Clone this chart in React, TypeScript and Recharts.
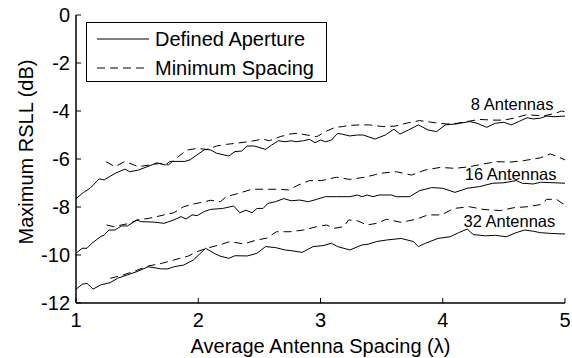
import { LineChart, Line, XAxis, YAxis, Label, Legend, ReferenceDot } from 'recharts'

const xTicks = [1, 2, 3, 4, 5]
const yTicks = [0, -2, -4, -6, -8, -10, -12]
const legendNames = ['Defined Aperture', 'Minimum Spacing']
const groupLabels = ['8 Antennas', '16 Antennas', '32 Antennas']

// 8 antennas
const solid8X = [1, 1.06, 1.115, 1.19, 1.23, 1.32, 1.4, 1.44, 1.51, 1.605, 1.66, 1.73, 1.77, 1.89, 1.93, 2.055, 2.1, 2.15, 2.25, 2.3, 2.355, 2.4, 2.46, 2.55, 2.6, 2.655, 2.71, 2.76, 2.8, 2.86, 2.91, 2.955, 3, 3.04, 3.09, 3.14, 3.18, 3.24, 3.3, 3.35, 3.39, 3.445, 3.53, 3.6, 3.65, 3.72, 3.8, 3.88, 3.95, 4.02, 4.11, 4.22, 4.28, 4.36, 4.43, 4.5, 4.56, 4.63, 4.69, 4.74, 4.8, 4.85, 4.91, 5]
const solid8Y = [-7.65, -7.4, -7.22, -6.83, -6.87, -6.6, -6.42, -6.53, -6.46, -6.28, -6.16, -6.25, -6.1, -6.1, -6.04, -5.6, -5.62, -5.76, -5.875, -5.69, -5.67, -5.46, -5.46, -5.6, -5.42, -5.24, -5.28, -5.24, -5.28, -5.24, -5.18, -5.32, -5.21, -5.28, -5.21, -4.93, -4.97, -5.04, -5.0, -5.0, -5.07, -5.17, -5.0, -4.76, -4.96, -4.79, -4.58, -4.79, -4.86, -4.58, -4.54, -4.44, -4.51, -4.68, -4.51, -4.47, -4.58, -4.42, -4.28, -4.33, -4.3, -4.21, -4.24, -4.21]
const dash8X = [1.245, 1.32, 1.4, 1.51, 1.605, 1.687, 1.755, 1.82, 1.905, 1.99, 2.07, 2.15, 2.23, 2.3, 2.41, 2.53, 2.58, 2.67, 2.75, 2.8, 2.89, 2.97, 3.04, 3.12, 3.18, 3.24, 3.32, 3.4, 3.51, 3.61, 3.7, 3.81, 3.94, 4.03, 4.12, 4.22, 4.3, 4.41, 4.5, 4.58, 4.69, 4.82, 4.92, 4.97, 5]
const dash8Y = [-6.11, -6.32, -6.1, -6.32, -6.25, -6.18, -6.25, -5.97, -5.63, -5.56, -5.6, -5.46, -5.39, -5.35, -5.28, -5.17, -5.24, -5.07, -4.96, -4.93, -5.0, -5.07, -4.86, -4.68, -4.65, -4.6, -4.58, -4.58, -4.65, -4.63, -4.51, -4.4, -4.49, -4.54, -4.51, -4.42, -4.35, -4.38, -4.38, -4.3, -4.15, -4.21, -4.1, -4.0, -4.03]

// 16 antennas
const solid16X = [1, 1.05, 1.09, 1.13, 1.2, 1.23, 1.27, 1.32, 1.37, 1.42, 1.5, 1.53, 1.64, 1.72, 1.8, 1.86, 1.9, 1.95, 1.99, 2.05, 2.1, 2.2, 2.29, 2.34, 2.39, 2.44, 2.48, 2.53, 2.57, 2.63, 2.7, 2.76, 2.83, 2.9, 2.97, 3.04, 3.13, 3.24, 3.3, 3.34, 3.38, 3.43, 3.48, 3.51, 3.58, 3.62, 3.73, 3.81, 3.91, 4, 4.1, 4.2, 4.3, 4.41, 4.5, 4.6, 4.65, 4.74, 4.8, 4.91, 5]
const solid16Y = [-9.93, -9.72, -9.72, -9.51, -9.24, -9.17, -8.96, -8.96, -8.79, -8.79, -8.54, -8.61, -8.63, -8.68, -8.54, -8.4, -8.5, -8.33, -8.36, -8.19, -8.1, -8.06, -7.96, -8.24, -8.13, -8.24, -8.06, -8.06, -7.85, -7.78, -7.65, -7.74, -7.71, -7.78, -7.68, -7.57, -7.57, -7.57, -7.5, -7.57, -7.5, -7.57, -7.5, -7.5, -7.5, -7.57, -7.57, -7.32, -7.19, -7.22, -7.39, -7.22, -7.15, -7.01, -6.99, -6.9, -7.01, -7.04, -6.97, -6.99, -7.01]
const dash16X = [1.25, 1.31, 1.37, 1.44, 1.5, 1.6, 1.72, 1.8, 1.88, 1.96, 2.05, 2.1, 2.18, 2.23, 2.33, 2.44, 2.53, 2.655, 2.74, 2.82, 2.91, 3.01, 3.13, 3.24, 3.36, 3.45, 3.48, 3.62, 3.745, 3.855, 3.98, 4.1, 4.22, 4.33, 4.44, 4.55, 4.66, 4.8, 4.88, 4.94, 5]
const dash16Y = [-8.75, -8.82, -8.75, -8.68, -8.54, -8.47, -8.33, -8.24, -7.99, -7.88, -7.78, -7.72, -7.78, -7.57, -7.43, -7.26, -7.26, -7.26, -7.29, -7.08, -6.9, -6.9, -6.76, -6.85, -6.76, -6.65, -6.6, -6.53, -6.67, -6.46, -6.35, -6.39, -6.32, -6.21, -6.11, -6.13, -6.07, -5.95, -5.79, -5.9, -6.04]

// 32 antennas
const solid32X = [1, 1.05, 1.09, 1.14, 1.2, 1.28, 1.34, 1.42, 1.5, 1.59, 1.7, 1.75, 1.8, 1.88, 1.96, 2.06, 2.13, 2.18, 2.25, 2.3, 2.4, 2.48, 2.55, 2.63, 2.71, 2.76, 2.85, 2.94, 3.02, 3.09, 3.14, 3.24, 3.34, 3.39, 3.46, 3.54, 3.66, 3.76, 3.8, 3.86, 3.96, 4.06, 4.13, 4.2, 4.25, 4.35, 4.43, 4.52, 4.6, 4.67, 4.74, 4.8, 4.88, 5]
const solid32Y = [-11.43, -11.22, -11.18, -11.42, -11.25, -11.15, -10.97, -10.83, -10.69, -10.49, -10.58, -10.58, -10.49, -10.42, -10.21, -9.72, -9.93, -10.05, -10.14, -10.03, -10.04, -9.93, -9.65, -9.69, -9.79, -9.82, -9.89, -9.65, -9.61, -9.51, -9.65, -9.79, -9.58, -9.55, -9.44, -9.375, -9.31, -9.44, -9.65, -9.51, -9.31, -9.24, -9.07, -8.92, -9.15, -9.2, -9.18, -9.24, -9.07, -8.96, -9.01, -9.07, -9.1, -9.125]
const dash32X = [1.28, 1.36, 1.47, 1.59, 1.7, 1.8, 1.92, 1.99, 2.07, 2.18, 2.26, 2.37, 2.48, 2.56, 2.64, 2.75, 2.86, 2.97, 3.05, 3.11, 3.19, 3.23, 3.3, 3.38, 3.46, 3.54, 3.66, 3.78, 3.88, 3.99, 4.09, 4.22, 4.33, 4.47, 4.58, 4.69, 4.8, 4.85, 4.93, 5]
const dash32Y = [-10.97, -10.87, -10.69, -10.46, -10.35, -10.21, -10.04, -9.86, -9.72, -9.57, -9.44, -9.54, -9.375, -9.3, -9.03, -9.03, -8.96, -8.82, -8.75, -8.89, -8.82, -8.54, -8.57, -8.75, -8.68, -8.51, -8.64, -8.51, -8.33, -8.33, -8.06, -7.99, -8.1, -8.15, -8.03, -7.99, -7.9, -7.68, -7.68, -7.92]

// where the "N Antennas" labels start (data units)
const groupLabelX = [4.23, 4.18, 4.17]
const groupLabelY = [-3.71, -6.63, -8.57]

const zip = (xs: number[], ys: number[]) => xs.map((x, i) => ({ x, y: ys[i] }))

const solidSeries = [zip(solid8X, solid8Y), zip(solid16X, solid16Y), zip(solid32X, solid32Y)]
const dashSeries = [zip(dash8X, dash8Y), zip(dash16X, dash16Y), zip(dash32X, dash32Y)]

const FONT = '"Liberation Sans", Arial, sans-serif'
const DASH = '8 5'

function BottomTick({ x, y, payload }: any) {
  return (
    <g>
      <line x1={x} y1={y} x2={x} y2={y - 5} stroke="#000" />
      <text x={x} y={y + 24} textAnchor="middle" fontSize={20} fontFamily={FONT} fill="#000">
        {payload.value}
      </text>
    </g>
  )
}

function TopTick({ x, y }: any) {
  return <line x1={x} y1={y} x2={x} y2={y + 5} stroke="#000" />
}

function LeftTick({ x, y, payload }: any) {
  return (
    <g>
      <line x1={x} y1={y} x2={x + 5} y2={y} stroke="#000" />
      <text x={x - 6} y={y + 7} textAnchor="end" fontSize={20} fontFamily={FONT} fill="#000">
        {payload.value}
      </text>
    </g>
  )
}

function RightTick({ x, y }: any) {
  return <line x1={x} y1={y} x2={x - 5} y2={y} stroke="#000" />
}

function LegendBox() {
  return (
    <div
      style={{
        width: 239,
        height: 58,
        border: '1px solid #000',
        background: '#fff',
        position: 'relative',
      }}
    >
      <svg width={239} height={58} style={{ position: 'absolute', left: 0, top: 0 }}>
        {legendNames.map((name, i) => (
          <g key={name}>
            <line
              x1={10}
              x2={62}
              y1={16 + i * 29}
              y2={16 + i * 29}
              stroke="#000"
              strokeDasharray={i === 1 ? DASH : undefined}
            />
            <text x={68} y={23 + i * 29} fontSize={20} fontFamily={FONT} fill="#000">
              {name}
            </text>
          </g>
        ))}
      </svg>
    </div>
  )
}

export default function App() {
  return (
    <div style={{ position: 'absolute', left: 0, top: 0, width: 572, height: 358, background: '#fff' }}>
      <LineChart width={572} height={358} margin={{ top: 15, right: 7, bottom: 0, left: 16 }}>
        <XAxis
          dataKey="x"
          type="number"
          domain={[1, 5]}
          ticks={xTicks}
          interval={0}
          allowDataOverflow
          height={55}
          tickSize={0}
          tickMargin={0}
          tickLine={false}
          axisLine={{ stroke: '#000', strokeWidth: 1.5 }}
          tick={<BottomTick />}
        >
          <Label
            content={({ viewBox }: any) => (
              <text
                x={viewBox.x + viewBox.width / 2}
                y={viewBox.y + 50}
                textAnchor="middle"
                fontSize={20}
                fontFamily={FONT}
                fill="#000"
              >
                Average Antenna Spacing (λ)
              </text>
            )}
          />
        </XAxis>
        <XAxis
          xAxisId="top"
          orientation="top"
          type="number"
          domain={[1, 5]}
          ticks={xTicks}
          interval={0}
          allowDataOverflow
          height={0}
          tickSize={0}
          tickMargin={0}
          tickLine={false}
          axisLine={{ stroke: '#000', strokeWidth: 1.5 }}
          tick={<TopTick />}
        />
        <YAxis
          type="number"
          domain={[-12, 0]}
          ticks={yTicks}
          interval={0}
          allowDataOverflow
          width={60}
          tickSize={0}
          tickMargin={0}
          tickLine={false}
          axisLine={{ stroke: '#000', strokeWidth: 1.5 }}
          tick={<LeftTick />}
        >
          <Label
            content={({ viewBox }: any) => {
              const cx = viewBox.x + 17
              const cy = 152
              return (
                <text
                  x={cx}
                  y={cy}
                  transform={`rotate(-90, ${cx}, ${cy})`}
                  textAnchor="middle"
                  fontSize={20}
                  fontFamily={FONT}
                  fill="#000"
                >
                  Maximum RSLL (dB)
                </text>
              )
            }}
          />
        </YAxis>
        <YAxis
          yAxisId="right"
          orientation="right"
          type="number"
          domain={[-12, 0]}
          ticks={yTicks}
          interval={0}
          allowDataOverflow
          width={0}
          tickSize={0}
          tickMargin={0}
          tickLine={false}
          axisLine={{ stroke: '#000', strokeWidth: 1.5 }}
          tick={<RightTick />}
        />

        {solidSeries.map((d, i) => (
          <Line
            key={'s' + i}
            data={d}
            dataKey="y"
            type="linear"
            stroke="#000"
            strokeWidth={1}
            dot={false}
            activeDot={false}
            isAnimationActive={false}
          />
        ))}
        {dashSeries.map((d, i) => (
          <Line
            key={'d' + i}
            data={d}
            dataKey="y"
            type="linear"
            stroke="#000"
            strokeWidth={1}
            strokeDasharray={DASH}
            dot={false}
            activeDot={false}
            isAnimationActive={false}
          />
        ))}

        {groupLabels.map((name, i) => (
          <ReferenceDot
            key={name}
            x={groupLabelX[i]}
            y={groupLabelY[i]}
            r={1}
            fill="none"
            stroke="none"
            ifOverflow="visible"
            label={({ viewBox }: any) => (
              <text x={viewBox.x + 1} y={viewBox.y + 7} fontSize={16.5} fontFamily={FONT} fill="#000">
                {name}
              </text>
            )}
          />
        ))}

        <Legend
          layout="vertical"
          align="center"
          verticalAlign="middle"
          content={() => <LegendBox />}
          wrapperStyle={{ position: 'absolute', left: 86, top: 22, width: 'auto', height: 'auto' }}
        />
      </LineChart>
    </div>
  )
}
